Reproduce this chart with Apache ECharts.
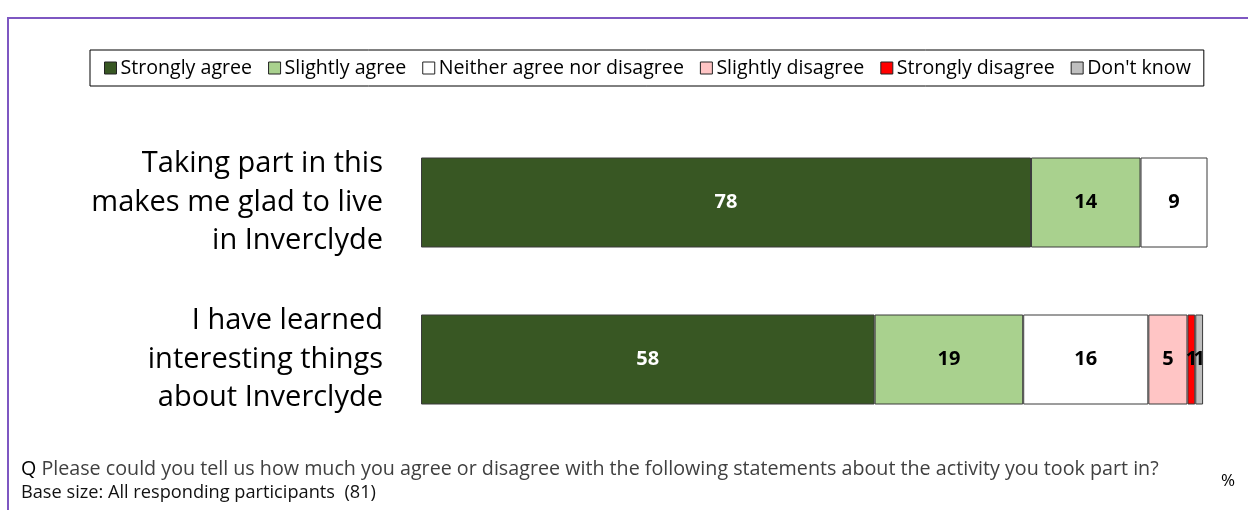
<!DOCTYPE html>
<html>
<head>
<meta charset="utf-8">
<script src="https://cdn.jsdelivr.net/npm/echarts@6/dist/echarts.min.js"></script>
<style>
  html, body { margin: 0; padding: 0; background: #fff; }
  #chart { width: 1248px; height: 510px; }
</style>
</head>
<body>
<div id="chart"></div>
<script>
// Statements (top to bottom)
const categories = [
  'Taking part in this\nmakes me glad to live\nin Inverclyde',
  'I have learned\ninteresting things\nabout Inverclyde'
];
// Response shares (%) per statement
const stronglyAgree    = [78, 58];
const slightlyAgree    = [14, 19];
const neitherAgree     = [9, 16];
const slightlyDisagree = [null, 5];
const stronglyDisagree = [null, 1];
const dontKnow         = [null, 1];

const seriesNames = ['Strongly agree', 'Slightly agree', 'Neither agree nor disagree',
  'Slightly disagree', 'Strongly disagree', "Don't know"];
const seriesData = [stronglyAgree, slightlyAgree, neitherAgree, slightlyDisagree, stronglyDisagree, dontKnow];
const colors = ['#385723', '#A9D18E', '#FFFFFF', '#FFC5C5', '#FF0000', '#BFBFBF'];
const labelColors = ['#FFFFFF', '#000000', '#000000', '#000000', '#000000', '#000000'];

const FONT = '"Open Sans", Lato, sans-serif';

const chart = echarts.init(document.getElementById('chart'), null, { renderer: 'canvas' });

const series = seriesNames.map((name, i) => ({
  name,
  type: 'bar',
  stack: 'total',
  barWidth: 90,
  data: seriesData[i],
  itemStyle: { color: colors[i], borderColor: '#3a3a3a', borderWidth: 1 },
  label: {
    show: true,
    position: 'inside',
    color: labelColors[i],
    fontFamily: FONT,
    fontWeight: 'bold',
    fontSize: 20,
    formatter: p => (p.value == null ? '' : String(p.value))
  },
  emphasis: { disabled: true }
}));

chart.setOption({
  animation: false,
  textStyle: { fontFamily: FONT },
  legend: {
    data: seriesNames,
    left: 90,
    top: 50,
    width: 1130,
    padding: [8, 13, 8, 14],
    itemGap: 16,
    itemWidth: 12,
    itemHeight: 12,
    icon: 'rect',
    borderColor: '#000',
    borderWidth: 1,
    itemStyle: { borderColor: '#222', borderWidth: 1 },
    textStyle: { fontFamily: FONT, fontSize: 19.6, color: '#000', padding: [0, 0, 0, -1] },
    selectedMode: false
  },
  grid: { left: 421, width: 786, top: 124, height: 314, containLabel: false },
  xAxis: {
    type: 'value',
    min: 0,
    max: 100.5,
    show: false
  },
  yAxis: {
    type: 'category',
    data: categories,
    inverse: true,
    axisLine: { show: false },
    axisTick: { show: false },
    axisLabel: {
      margin: 38,
      align: 'right',
      fontFamily: FONT,
      fontSize: 29,
      lineHeight: 38.5,
      color: '#000'
    }
  },
  series,
  graphic: [
    {
      type: 'rect',
      shape: { x: 8, y: 18, width: 1260, height: 520 },
      style: { fill: 'none', stroke: '#7E57C2', lineWidth: 2 },
      silent: true
    },
    {
      type: 'text',
      left: 21,
      top: 459,
      style: {
        text: '{q|Q} Please could you tell us how much you agree or disagree with the following statements about the activity you took part in?',
        fontFamily: FONT,
        fontSize: 19.7,
        fill: '#404040',
        rich: { q: { fontFamily: FONT, fontSize: 19.7, fill: '#000' } }
      }
    },
    {
      type: 'text',
      left: 21,
      top: 484,
      style: {
        text: 'Base size: All responding participants  (81)',
        fontFamily: FONT,
        fontSize: 18.2,
        fill: '#111'
      }
    },
    {
      type: 'text',
      left: 1221,
      top: 473,
      style: { text: '%', fontFamily: FONT, fontSize: 17, fill: '#000' }
    }
  ]
});
</script>
</body>
</html>
